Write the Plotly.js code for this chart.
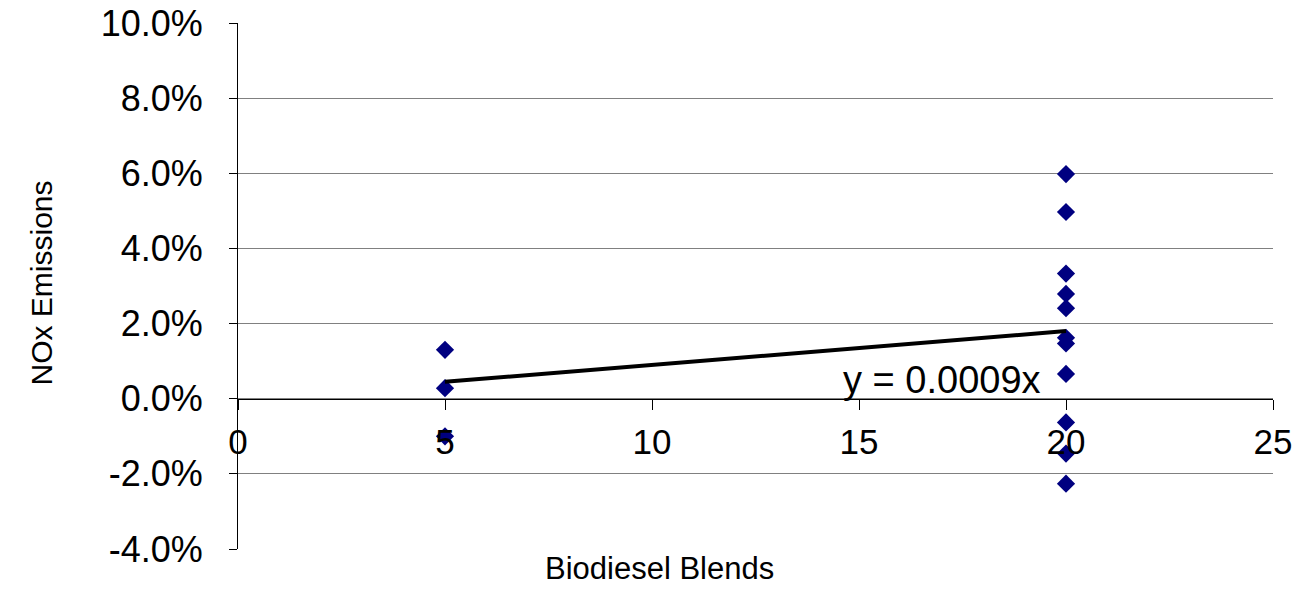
<!DOCTYPE html>
<html>
<head>
<meta charset="utf-8">
<script src="https://cdn.plot.ly/plotly-3.0.1.min.js"></script>
<style>html,body{margin:0;padding:0;background:#fff;}#chart{width:1305px;height:603px;}</style>
</head>
<body>
<div id="chart"></div>
<script>
const blendX = [5, 5, 5, 20, 20, 20, 20, 20, 20, 20, 20, 20, 20, 20];
const noxY = [0.013, 0.0028, -0.010, 0.0598, 0.0497, 0.0333, 0.0279, 0.0241, 0.0162, 0.0147, 0.0066, -0.0063, -0.0146, -0.0226];
const trendX = [5, 20];
const slope = 0.0009;
const trendY = trendX.map(x => slope * x);
const xTicks = [0, 5, 10, 15, 20, 25];
const yTicks = [-0.04, -0.02, 0, 0.02, 0.04, 0.06, 0.08, 0.10];
const yTickText = ['-4.0%', '-2.0%', '0.0%', '2.0%', '4.0%', '6.0%', '8.0%', '10.0%'];

const font = 'Liberation Sans, Arial, sans-serif';
const data = [
  {x: blendX, y: noxY, type: 'scatter', mode: 'markers',
   marker: {symbol: 'diamond', color: '#000080', size: 14}, showlegend: false, cliponaxis: true},
  {x: trendX, y: trendY, type: 'scatter', mode: 'lines',
   line: {color: '#000000', width: 4}, showlegend: false}
];
const W = 1305, H = 603, L = 238, R = 32, T = 23, B = 54;
const pw = W - L - R, ph = H - T - B;
const layout = {
  width: W, height: H,
  margin: {l: L, r: R, t: T, b: B},
  paper_bgcolor: '#fff', plot_bgcolor: '#fff',
  font: {family: font, size: 30, color: '#000'},
  xaxis: {range: [0, 25], tickvals: xTicks, ticktext: xTicks.map(String),
    showgrid: false, zeroline: false, showline: true, linecolor: '#000', linewidth: 1,
    anchor: 'free', position: 4/14, ticks: 'outside', ticklen: 10, tickcolor: '#000',
    ticklabelstandoff: 2, tickfont: {size: 35, family: font}},
  yaxis: {range: [-0.04, 0.10], tickvals: yTicks, ticktext: yTickText,
    showgrid: true, gridcolor: '#808080', gridwidth: 1, zeroline: false,
    showline: true, linecolor: '#000', linewidth: 1, ticks: 'outside', ticklen: 8, tickcolor: '#000',
    ticklabelstandoff: 19, tickfont: {size: 36, family: font}},
  annotations: [
    {x: 17.0, y: 0.005, xref: 'x', yref: 'y', text: 'y = 0.0009x', showarrow: false,
     font: {size: 38, family: font, color: '#000'}},
    {x: (659 - L) / pw, y: (H - B - 588) / ph, xref: 'paper', yref: 'paper', text: 'Biodiesel Blends', showarrow: false,
     font: {size: 31, family: font, color: '#000'}},
    {x: (22 - L) / pw, y: (H - B - 283) / ph, xref: 'paper', yref: 'paper', text: 'NOx Emissions', textangle: -90, showarrow: false,
     font: {size: 30, family: font, color: '#000'}}
  ]
};
Plotly.newPlot('chart', data, layout, {displayModeBar: false, staticPlot: true});
</script>
</body>
</html>
